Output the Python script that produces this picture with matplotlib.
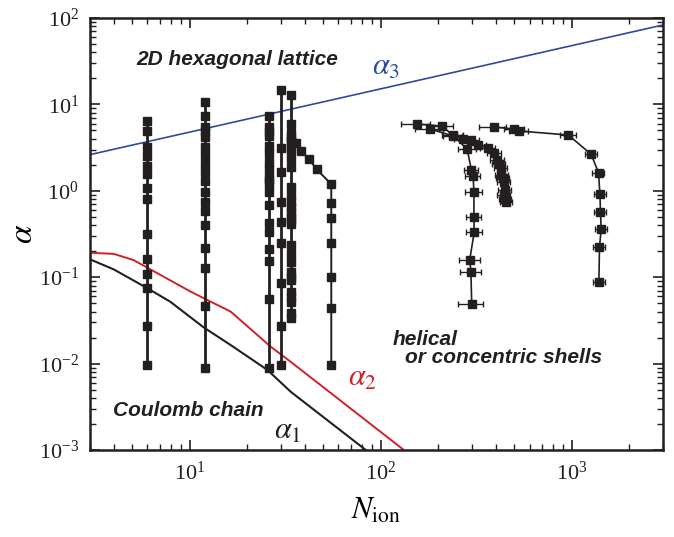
import matplotlib
matplotlib.use("Agg")
import matplotlib.pyplot as plt
from matplotlib.ticker import LogLocator, NullFormatter

plt.rcParams['mathtext.fontset'] = 'stix'
plt.rcParams['font.family'] = ['Liberation Serif', 'DejaVu Serif']

# ---------------- data ----------------
# threshold curves
alpha3_N = [3, 3000]
alpha3_v = [2.62, 83]

alpha2_N = [3, 4, 5.07, 10.1, 16.35, 26.5, 33.7, 132]
alpha2_v = [0.192, 0.186, 0.158, 0.068, 0.040, 0.0157, 0.0105, 0.001]

alpha1_N = [3, 4, 6, 7.9, 11.8, 16.35, 25.5, 33.7, 83.4]
alpha1_v = [0.161, 0.123, 0.0744, 0.052, 0.0263, 0.0164, 0.00843, 0.00473, 0.001]

# vertical columns (simulation, fixed N)
col6_v = [6.47, 4.92, 3.24, 2.53, 1.92, 1.55, 1.09, 0.80, 0.314, 0.161, 0.109,
          0.0755, 0.0275, 0.00964]
col12_v = [10.6, 7.34, 5.52, 4.96, 4.23, 3.24, 2.58, 2.06, 1.65, 1.31, 0.968,
           0.742, 0.583, 0.399, 0.218, 0.129, 0.0468, 0.00889]
col26_v = [7.34, 5.52, 4.83, 4.31, 3.33, 2.72, 2.17, 1.79, 1.46, 1.33, 1.20,
           0.977, 0.680, 0.421, 0.331, 0.212, 0.154, 0.056, 0.00889]
col30_v = [14.7, 3.10, 1.64, 0.736, 0.439, 0.247, 0.0850, 0.0275, 0.00955]
col34_v = [12.8, 5.93, 4.63, 4.23, 3.77, 3.10, 2.97, 2.42, 1.90, 1.11, 0.894,
           0.748, 0.655, 0.573, 0.501, 0.459, 0.413, 0.236, 0.186, 0.151,
           0.116, 0.101, 0.0929, 0.0679, 0.0594, 0.052, 0.0382, 0.0334]
col_N = [6, 12, 26, 30, 34]

branch_N = [34, 35.8, 38.0, 42.1, 46.2, 55, 55, 55, 55, 55, 55, 55]
branch_v = [3.77, 3.55, 2.91, 2.32, 1.77, 1.19, 0.717, 0.481, 0.251, 0.101,
            0.0437, 0.00964]

# experimental series with horizontal error bars
expA_N = [154, 208, 239, 283, 298, 304, 307, 307, 308, 292, 296, 299]
expA_v = [5.93, 5.62, 4.39, 3.02, 1.74, 1.50, 0.968, 0.493, 0.331, 0.160,
          0.116, 0.049]
expA_err = [26, 31, 31, 31, 26, 28, 30, 29, 29, 37, 37, 45]

expB_N = [181, 239, 270, 298, 324, 363, 393, 406, 415, 426, 428, 436, 440,
          444, 440, 448, 452]
expB_v = [5.19, 4.31, 3.98, 3.87, 3.39, 3.15, 2.72, 2.27, 2.05, 1.82, 1.52,
          1.40, 1.27, 1.02, 0.894, 0.80, 0.748]
expB_err = [30, 28, 28, 30, 30, 32, 34, 34, 34, 34, 34, 34, 34, 34, 34, 34, 34]

expC_N = [390, 500, 531, 959, 1262, 1379, 1402, 1412, 1424, 1395, 1385]
expC_v = [5.47, 5.19, 4.92, 4.42, 2.64, 1.62, 0.918, 0.564, 0.358, 0.225,
          0.0887]
expC_err = [62, 60, 60, 88, 87, 100, 100, 100, 100, 100, 100]

# ---------------- plot ----------------
fig = plt.figure(figsize=(6.74, 5.37), dpi=100)
ax = fig.add_axes([0.1335, 0.162, 0.9837 - 0.1335, 0.9665 - 0.162])
ax.set_xscale('log')
ax.set_yscale('log')
ax.set_xlim(3, 3000)
ax.set_ylim(1e-3, 1e2)

dark = '#231f20'
ax.plot(alpha3_N, alpha3_v, color='#2e4a9e', lw=1.2)
ax.plot(alpha2_N, alpha2_v, color='#d0202a', lw=1.4)
ax.plot(alpha1_N, alpha1_v, color=dark, lw=1.5)

for n, vals in zip(col_N, [col6_v, col12_v, col26_v, col30_v, col34_v]):
    ax.plot([n] * len(vals), vals, 's-', color=dark, lw=2.0, ms=5.8)
ax.plot(branch_N, branch_v, 's-', color=dark, lw=1.4, ms=5.8)

for Ns, vs, er in [(expA_N, expA_v, expA_err), (expB_N, expB_v, expB_err),
                   (expC_N, expC_v, expC_err)]:
    ax.errorbar(Ns, vs, xerr=er, fmt='s-', color=dark, ecolor=dark, lw=1.2,
                ms=5.8, elinewidth=1.0, capsize=2.5, capthick=1.0)

# axes styling
for sp in ax.spines.values():
    sp.set_linewidth(1.8)
    sp.set_color(dark)
ax.xaxis.set_major_locator(LogLocator(base=10, numticks=10))
ax.yaxis.set_major_locator(LogLocator(base=10, numticks=10))
ax.xaxis.set_minor_locator(LogLocator(base=10, subs=range(2, 10), numticks=20))
ax.yaxis.set_minor_locator(LogLocator(base=10, subs=range(2, 10), numticks=20))
ax.xaxis.set_minor_formatter(NullFormatter())
ax.yaxis.set_minor_formatter(NullFormatter())
ax.tick_params(which='both', direction='in', top=True, right=True, colors=dark)
ax.tick_params(which='major', length=7, width=1.2, labelsize=16, pad=8)
ax.tick_params(which='minor', length=4, width=1.0)

ax.set_xlabel(r'$N_{\mathrm{ion}}$', fontsize=22, labelpad=9)
ax.set_ylabel(r'$\alpha$', fontsize=24, labelpad=0)

txt = dict(family='Liberation Sans', weight='bold', style='italic',
           fontsize=15, color=dark, transform=ax.transAxes)
ax.text(0.2565, 0.903, '2D hexagonal lattice', ha='center', va='center', **txt)
ax.text(0.171, 0.0926, 'Coulomb chain', ha='center', va='center', **txt)
ax.text(0.528, 0.255, 'helical', ha='left', va='center', **txt)
ax.text(0.549, 0.215, 'or concentric shells', ha='left', va='center', **txt)

ax.text(0.492, 0.885, r'$\alpha_3$', color='#2e4a9e', fontsize=22,
        transform=ax.transAxes, ha='left', va='center')
ax.text(0.45, 0.165, r'$\alpha_2$', color='#d0202a', fontsize=22,
        transform=ax.transAxes, ha='left', va='center')
ax.text(0.322, 0.043, r'$\alpha_1$', color=dark, fontsize=22,
        transform=ax.transAxes, ha='left', va='center')

fig.savefig('out.png', dpi=100)
